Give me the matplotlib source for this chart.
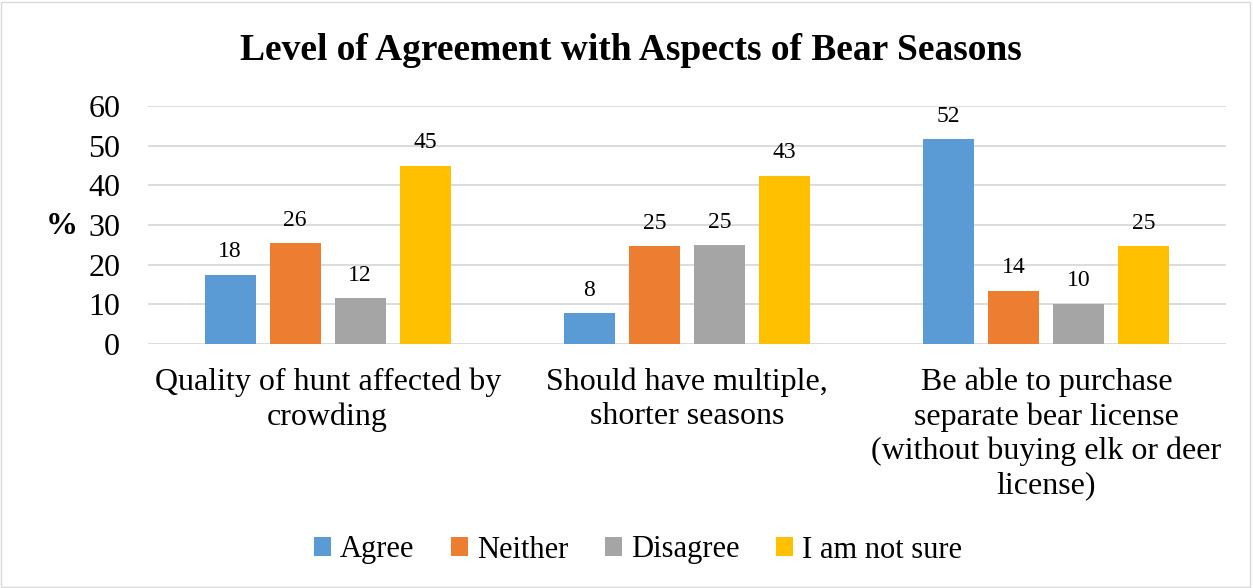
import numpy as np
import matplotlib.pyplot as plt
from matplotlib.patches import Rectangle

plt.rcParams['font.family'] = ['Liberation Serif', 'DejaVu Serif']

categories = ["Quality of hunt affected by\ncrowding",
              "Should have multiple,\nshorter seasons",
              "Be able to purchase\nseparate bear license\n(without buying elk or deer\nlicense)"]
series = ["Agree", "Neither", "Disagree", "I am not sure"]
colors = ["#5B9BD5", "#ED7D31", "#A5A5A5", "#FFC000"]

# bar heights, labels as printed
agree = [17.4, 7.7, 51.6]
neither = [25.4, 24.6, 13.4]
disagree = [11.5, 24.9, 10.1]
not_sure = [45.0, 42.4, 24.6]
values = [agree, neither, disagree, not_sure]

agree_lbl = [18, 8, 52]
neither_lbl = [26, 25, 14]
disagree_lbl = [12, 25, 10]
not_sure_lbl = [45, 43, 25]
labels = [agree_lbl, neither_lbl, disagree_lbl, not_sure_lbl]

fig = plt.figure(figsize=(12.53, 5.88), dpi=100)
ax = fig.add_axes([148/1253, 1-344/588, 1078/1253, 238/588])

x = np.arange(len(categories))
width = 0.142
step = 0.181
for i, (vals, lbls) in enumerate(zip(values, labels)):
    pos = x + (i - 1.5) * step
    bars = ax.bar(pos, vals, width, color=colors[i], label=series[i], zorder=3)
    ax.bar_label(bars, labels=[str(l) for l in lbls], padding=9, fontsize=17)

ax.set_xlim(-0.5, 2.5)
ax.set_ylim(0, 60)
ax.set_yticks(range(0, 61, 10))
ax.yaxis.grid(True, color="#D9D9D9", linewidth=1.3, zorder=0)
ax.tick_params(axis='y', length=0, labelsize=23, pad=20)
ax.set_xticks(x)
ax.set_xticklabels(categories, fontsize=23, linespacing=1.22)
ax.tick_params(axis='x', length=0, pad=17)
for s in ax.spines.values():
    s.set_visible(False)

fig.text(62/1253, 1-226/588, "%", fontsize=23, fontweight='bold', ha='center', va='center')
fig.text(631/1253, 1-50/588, "Level of Agreement with Aspects of Bear Seasons",
         fontsize=27, fontweight='bold', ha='center', va='center')

fig.legend(loc='center', bbox_to_anchor=(638/1253, 1-550/588), ncol=4, frameon=False,
           fontsize=22, handlelength=0.55, handleheight=0.55, handletextpad=0.3, columnspacing=1.2)

fig.patches.append(Rectangle((0.001, 0.002), 0.997, 0.995, transform=fig.transFigure,
                             fill=False, edgecolor="#D9D9D9", linewidth=1))

fig.savefig("out.png", dpi=100)
